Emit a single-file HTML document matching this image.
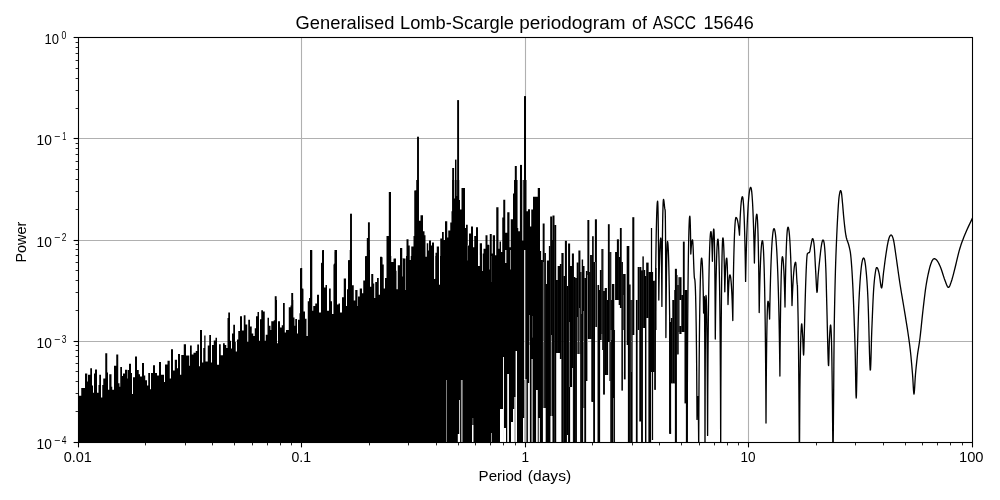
<!DOCTYPE html>
<html><head><meta charset="utf-8"><title>Generalised Lomb-Scargle periodogram of ASCC 15646</title>
<style>
html,body{margin:0;padding:0;background:#fff;overflow:hidden}
svg{display:block;font-family:"Liberation Sans",sans-serif;fill:#000;filter:grayscale(1)}
.g{stroke:#b0b0b0;stroke-width:1.1;fill:none}
.t{stroke:#000;stroke-width:1.1;fill:none}
.m{stroke:#000;stroke-width:0.85;fill:none}
.f{stroke:#000;stroke-width:1.1;fill:none}
.d{stroke:#000;stroke-width:1.32;fill:none;stroke-linejoin:round;stroke-linecap:butt}
</style></head><body>
<svg width="1000" height="500" viewBox="0 0 1000 500">
<defs><clipPath id="c"><rect x="78.5" y="37.5" width="894.0" height="405.0"/></clipPath></defs>
<rect x="0" y="0" width="1000" height="500" fill="#fff"/>
<line x1="301.5" y1="37.5" x2="301.5" y2="442.5" class="g"/>
<line x1="78.5" y1="138.5" x2="972.5" y2="138.5" class="g"/>
<line x1="525.5" y1="37.5" x2="525.5" y2="442.5" class="g"/>
<line x1="78.5" y1="240.5" x2="972.5" y2="240.5" class="g"/>
<line x1="748.5" y1="37.5" x2="748.5" y2="442.5" class="g"/>
<line x1="78.5" y1="341.5" x2="972.5" y2="341.5" class="g"/>
<g clip-path="url(#c)">
<path d="M77.50,450.00 L77.50,450.00 L78.50,450.00 L78.50,395.80 L81.25,395.80 L81.25,388.00 L85.00,388.00 L85.00,373.60 L87.25,373.60 L87.25,381.40 L88.00,381.40 L88.00,374.80 L90.25,374.80 L90.25,368.20 L92.00,368.20 L92.00,385.60 L93.00,385.60 L93.00,392.80 L94.00,392.80 L94.00,373.60 L95.00,373.60 L95.00,369.40 L97.00,369.40 L97.00,392.80 L98.50,392.80 L98.50,385.00 L99.25,385.00 L99.25,374.80 L101.00,374.80 L101.00,397.60 L102.25,397.60 L102.25,385.00 L103.25,385.00 L103.25,378.40 L105.25,378.40 L105.25,353.20 L107.25,353.20 L107.25,372.40 L108.00,372.40 L108.00,389.80 L109.25,389.80 L109.25,374.20 L111.50,374.20 L111.50,386.80 L112.25,386.80 L112.25,389.80 L114.00,389.80 L114.00,365.80 L116.25,365.80 L116.25,354.40 L118.25,354.40 L118.25,383.20 L119.50,383.20 L119.50,386.80 L120.25,386.80 L120.25,367.00 L122.00,367.00 L122.00,376.00 L123.00,376.00 L123.00,373.60 L125.00,373.60 L125.00,369.76 L127.25,369.76 L127.25,378.40 L127.75,378.40 L127.75,370.00 L129.00,370.00 L129.00,363.76 L131.00,363.76 L131.00,373.00 L132.00,373.00 L132.00,394.00 L133.00,394.00 L133.00,377.20 L135.00,377.20 L135.00,356.44 L137.00,356.44 L137.00,370.00 L138.75,370.00 L138.75,374.20 L140.00,374.20 L140.00,376.60 L142.00,376.60 L142.00,363.04 L144.00,363.04 L144.00,375.40 L145.25,375.40 L145.25,380.20 L147.00,380.20 L147.00,385.60 L148.25,385.60 L148.25,373.00 L150.00,373.00 L150.00,389.20 L151.00,389.20 L151.00,373.00 L153.00,373.00 L153.00,365.20 L155.00,365.20 L155.00,373.00 L157.00,373.00 L157.00,375.40 L159.00,375.40 L159.00,361.96 L161.00,361.96 L161.00,374.80 L164.00,374.80 L164.00,382.00 L165.00,382.00 L165.00,364.60 L167.50,364.60 L167.50,360.76 L169.75,360.76 L169.75,378.40 L171.00,378.40 L171.00,349.24 L173.00,349.24 L173.00,370.60 L174.75,370.60 L174.75,359.80 L177.00,359.80 L177.00,368.20 L178.00,368.20 L178.00,354.04 L180.00,354.04 L180.00,374.80 L181.25,374.80 L181.25,355.00 L183.75,355.00 L183.75,344.20 L186.00,344.20 L186.00,355.60 L189.25,355.60 L189.25,365.80 L190.00,365.80 L190.00,345.60 L191.75,345.60 L191.75,354.60 L193.50,354.60 L193.50,352.80 L195.75,352.80 L195.75,351.00 L197.25,351.00 L197.25,344.40 L199.00,344.40 L199.00,366.36 L200.00,366.36 L200.00,330.00 L202.00,330.00 L202.00,362.40 L203.25,362.40 L203.25,348.00 L204.25,348.00 L204.25,335.40 L205.50,335.40 L205.50,361.56 L207.75,361.56 L207.75,345.60 L209.25,345.60 L209.25,335.04 L211.00,335.04 L211.00,362.40 L212.00,362.40 L212.00,345.00 L213.75,345.00 L213.75,340.44 L215.50,340.44 L215.50,337.80 L217.00,337.80 L217.00,364.80 L219.00,364.80 L219.00,344.16 L220.75,344.16 L220.75,355.20 L223.00,355.20 L223.00,343.20 L224.75,343.20 L224.75,345.00 L226.25,345.00 L226.25,348.00 L227.50,348.00 L227.50,318.00 L228.25,318.00 L228.25,312.60 L230.00,312.60 L230.00,340.80 L231.00,340.80 L231.00,348.60 L232.00,348.60 L232.00,333.60 L233.25,333.60 L233.25,324.84 L235.00,324.84 L235.00,342.00 L235.75,342.00 L235.75,351.60 L237.00,351.60 L237.00,339.60 L238.25,339.60 L238.25,330.96 L240.00,330.96 L240.00,316.20 L242.00,316.20 L242.00,330.60 L243.75,330.60 L243.75,315.24 L245.50,315.24 L245.50,324.60 L247.25,324.60 L247.25,342.00 L248.25,342.00 L248.25,319.80 L250.00,319.80 L250.00,326.40 L251.75,326.40 L251.75,333.60 L253.25,333.60 L253.25,336.00 L254.75,336.00 L254.75,328.20 L256.00,328.20 L256.00,316.20 L257.50,316.20 L257.50,312.00 L259.00,312.00 L259.00,340.80 L260.00,340.80 L260.00,319.20 L261.25,319.20 L261.25,310.20 L263.00,310.20 L263.00,311.40 L264.75,311.40 L264.75,340.80 L265.75,340.80 L265.75,334.80 L267.50,334.80 L267.50,317.64 L269.00,317.64 L269.00,325.80 L270.50,325.80 L270.50,330.00 L271.25,330.00 L271.25,321.36 L273.75,321.36 L273.75,320.16 L275.00,320.16 L275.00,300.00 L277.00,300.00 L277.00,343.20 L278.00,343.20 L278.00,321.36 L280.00,321.36 L280.00,327.60 L281.75,327.60 L281.75,325.20 L283.00,325.20 L283.00,303.00 L284.75,303.00 L284.75,332.40 L286.00,332.40 L286.00,330.00 L288.75,330.00 L288.75,307.20 L290.50,307.20 L290.50,305.40 L291.75,305.40 L291.75,300.00 L293.25,300.00 L293.25,317.40 L294.50,317.40 L294.50,325.80 L295.25,325.80 L295.25,318.96 L297.00,318.96 L297.00,333.60 L298.00,333.60 L298.00,319.80 L299.50,319.80 L299.50,313.20 L300.00,313.20 L300.00,268.40 L301.75,268.40 L301.75,288.40 L303.25,288.40 L303.25,311.60 L305.00,311.60 L305.00,318.80 L306.50,318.80 L306.50,336.00 L307.75,336.00 L307.75,301.20 L309.00,301.20 L309.00,298.00 L310.00,298.00 L310.00,250.00 L312.25,250.00 L312.25,310.80 L313.25,310.80 L313.25,306.00 L315.25,306.00 L315.25,303.60 L317.00,303.60 L317.00,294.80 L319.00,294.80 L319.00,312.40 L321.00,312.40 L321.00,263.60 L322.50,263.60 L322.50,250.00 L324.00,250.00 L324.00,287.60 L325.50,287.60 L325.50,284.88 L327.00,284.88 L327.00,310.80 L329.00,310.80 L329.00,288.40 L330.75,288.40 L330.75,301.20 L332.00,301.20 L332.00,314.00 L333.50,314.00 L333.50,264.40 L334.50,264.40 L334.50,250.00 L337.00,250.00 L337.00,304.40 L338.50,304.40 L338.50,303.60 L340.00,303.60 L340.00,312.40 L342.00,312.40 L342.00,297.20 L343.75,297.20 L343.75,278.48 L346.00,278.48 L346.00,306.00 L347.00,306.00 L347.00,289.20 L348.00,289.20 L348.00,260.40 L349.75,260.40 L349.75,250.00 L352.00,250.00 L352.00,285.20 L353.75,285.20 L353.75,300.40 L355.25,300.40 L355.25,290.00 L357.50,290.00 L357.50,306.00 L358.00,306.00 L358.00,296.40 L359.75,296.40 L359.75,288.40 L362.00,288.40 L362.00,293.20 L363.25,293.20 L363.25,280.40 L365.00,280.40 L365.00,256.40 L367.25,256.40 L367.25,250.00 L370.00,250.00 L370.00,286.80 L371.25,286.80 L371.25,274.00 L373.25,274.00 L373.25,283.60 L374.25,283.60 L374.25,298.00 L375.25,298.00 L375.25,282.00 L377.00,282.00 L377.00,278.00 L378.75,278.00 L378.75,294.80 L380.00,294.80 L380.00,256.80 L382.00,256.80 L382.00,257.20 L382.50,257.20 L382.50,264.40 L383.75,264.40 L383.75,288.40 L385.00,288.40 L385.00,278.00 L386.50,278.00 L386.50,236.00 L389.00,236.00 L389.00,192.00 L391.00,192.00 L391.00,256.00 L391.25,256.00 L391.25,262.00 L393.50,262.00 L393.50,258.80 L393.75,258.80 L393.75,258.40 L396.00,258.40 L396.00,270.80 L396.50,270.80 L396.50,289.20 L397.75,289.20 L397.75,265.20 L400.00,265.20 L400.00,248.00 L402.25,248.00 L402.25,276.40 L402.75,276.40 L402.75,258.00 L403.25,258.00 L403.25,258.40 L405.50,258.40 L405.50,290.00 L406.00,290.00 L406.00,256.00 L406.50,256.00 L406.50,239.20 L408.50,239.20 L408.50,245.60 L409.75,245.60 L409.75,259.92 L410.75,259.92 L410.75,256.00 L411.25,256.00 L411.25,246.40 L413.50,246.40 L413.50,236.00 L414.25,236.00 L414.25,190.40 L416.25,190.40 L416.25,180.00 L418.75,180.00 L418.75,220.80 L420.50,220.80 L420.50,215.20 L423.00,215.20 L423.00,231.20 L424.50,231.20 L424.50,235.20 L425.50,235.20 L425.50,256.80 L426.75,256.80 L426.75,243.20 L428.25,243.20 L428.25,250.40 L429.00,250.40 L429.00,240.48 L431.00,240.48 L431.00,245.60 L432.00,245.60 L432.00,242.40 L434.00,242.40 L434.00,254.80 L434.25,254.80 L434.25,278.80 L435.25,278.80 L435.25,256.00 L435.50,256.00 L435.50,252.80 L436.75,252.80 L436.75,246.40 L439.00,246.40 L439.00,284.40 L440.00,284.40 L440.00,256.00 L440.25,256.00 L440.25,238.40 L442.00,238.40 L442.00,232.00 L443.75,232.00 L443.75,240.00 L445.00,240.00 L445.00,221.28 L447.25,221.28 L447.25,237.60 L448.25,237.60 L448.25,230.40 L450.25,230.40 L450.25,222.40 L451.50,222.40 L451.50,211.20 L452.25,211.20 L452.25,180.00 L454.25,180.00 L454.25,198.40 L455.25,198.40 L455.25,180.00 L456.50,180.00 L456.50,196.00 L457.50,196.00 L457.50,180.00 L459.25,180.00 L459.25,200.00 L460.00,200.00 L460.00,209.60 L461.50,209.60 L461.50,188.00 L465.00,188.00 L465.00,228.00 L466.00,228.00 L466.00,224.80 L467.75,224.80 L467.75,245.60 L469.00,245.60 L469.00,233.60 L471.00,233.60 L471.00,226.40 L473.00,226.40 L473.00,247.20 L474.25,247.20 L474.25,236.00 L476.00,236.00 L476.00,227.20 L478.00,227.20 L478.00,266.00 L479.75,266.00 L479.75,243.20 L482.00,243.20 L482.00,253.60 L483.50,253.60 L483.50,248.80 L485.50,248.80 L485.50,235.20 L487.50,235.20 L487.50,244.80 L489.75,244.80 L489.75,234.08 L491.75,234.08 L491.75,253.60 L492.75,253.60 L492.75,235.20 L495.00,235.20 L495.00,255.20 L496.25,255.20 L496.25,207.20 L498.50,207.20 L498.50,248.80 L499.50,248.80 L499.50,241.60 L501.00,241.60 L501.00,252.00 L502.25,252.00 L502.25,217.60 L503.25,217.60 L503.25,199.68 L505.25,199.68 L505.25,232.80 L507.25,232.80 L507.25,212.32 L509.50,212.32 L509.50,247.20 L510.75,247.20 L510.75,219.20 L513.00,219.20 L513.00,193.60 L514.25,193.60 L514.25,180.00 L517.50,180.00 L517.50,228.00 L518.25,228.00 L518.25,231.20 L520.00,231.20 L520.00,180.00 L522.25,180.00 L522.25,240.80 L523.25,240.80 L523.25,180.00 L526.50,180.00 L526.50,211.20 L528.00,211.20 L528.00,209.28 L530.00,209.28 L530.00,226.40 L531.25,226.40 L531.25,209.60 L533.00,209.60 L533.00,196.80 L537.75,196.80 L537.75,188.00 L540.00,188.00 L540.00,450.00 L540.00,450.00 L540.00,450.00Z" fill="#000"/>
<rect x="274.75" y="296.20" width="1.90" height="153.80" fill="#000"/>
<rect x="291.25" y="293.00" width="1.90" height="157.00" fill="#000"/>
<rect x="300.40" y="268.00" width="1.80" height="182.00" fill="#000"/>
<rect x="301.70" y="289.20" width="1.60" height="160.80" fill="#000"/>
<rect x="310.15" y="251.10" width="1.90" height="198.90" fill="#000"/>
<rect x="322.00" y="250.30" width="1.80" height="199.70" fill="#000"/>
<rect x="321.10" y="262.80" width="1.60" height="187.20" fill="#000"/>
<rect x="334.85" y="252.00" width="1.90" height="198.00" fill="#000"/>
<rect x="333.90" y="263.60" width="1.40" height="186.40" fill="#000"/>
<rect x="350.05" y="213.70" width="1.90" height="236.30" fill="#000"/>
<rect x="348.30" y="260.00" width="1.60" height="190.00" fill="#000"/>
<rect x="367.95" y="222.30" width="1.90" height="227.70" fill="#000"/>
<rect x="366.80" y="238.00" width="1.60" height="212.00" fill="#000"/>
<rect x="365.30" y="256.00" width="1.80" height="194.00" fill="#000"/>
<rect x="380.30" y="257.20" width="1.80" height="192.80" fill="#000"/>
<rect x="388.80" y="192.00" width="2.00" height="258.00" fill="#000"/>
<rect x="387.55" y="236.40" width="1.50" height="213.60" fill="#000"/>
<rect x="417.05" y="136.70" width="1.90" height="313.30" fill="#000"/>
<rect x="415.50" y="190.40" width="2.20" height="259.60" fill="#000"/>
<rect x="457.15" y="100.10" width="1.90" height="349.90" fill="#000"/>
<rect x="455.00" y="159.60" width="1.50" height="290.40" fill="#000"/>
<rect x="452.20" y="168.00" width="1.90" height="282.00" fill="#000"/>
<rect x="524.00" y="96.10" width="2.00" height="353.90" fill="#000"/>
<rect x="514.80" y="166.00" width="2.00" height="284.00" fill="#000"/>
<rect x="520.00" y="164.90" width="2.00" height="285.10" fill="#000"/>
<rect x="514.10" y="180.00" width="3.00" height="270.00" fill="#000"/>
<rect x="519.90" y="180.00" width="2.20" height="270.00" fill="#000"/>
<rect x="446.00" y="380.00" width="0.90" height="70.00" fill="#fff" fill-opacity="0.55"/>
<rect x="459.00" y="400.00" width="1.00" height="50.00" fill="#fff" fill-opacity="0.8"/>
<rect x="457.80" y="434.00" width="2.20" height="16.00" fill="#fff"/>
<rect x="460.90" y="380.00" width="1.80" height="70.00" fill="#fff" fill-opacity="0.6"/>
<rect x="472.00" y="425.00" width="1.40" height="25.00" fill="#fff"/>
<rect x="472.60" y="418.00" width="0.60" height="32.00" fill="#fff" fill-opacity="0.7"/>
<rect x="491.00" y="433.00" width="1.00" height="17.00" fill="#fff" fill-opacity="0.6"/>
<rect x="500.00" y="409.00" width="3.00" height="41.00" fill="#fff"/>
<rect x="503.00" y="357.00" width="0.95" height="93.00" fill="#fff"/>
<rect x="503.60" y="428.00" width="2.40" height="22.00" fill="#fff"/>
<rect x="507.20" y="374.00" width="1.80" height="76.00" fill="#fff" fill-opacity="0.95"/>
<rect x="511.00" y="422.00" width="2.00" height="28.00" fill="#fff"/>
<rect x="513.00" y="409.00" width="1.40" height="41.00" fill="#fff"/>
<rect x="514.40" y="397.00" width="1.20" height="53.00" fill="#fff"/>
<rect x="515.60" y="351.00" width="1.40" height="99.00" fill="#fff"/>
<rect x="523.00" y="418.00" width="1.40" height="32.00" fill="#fff"/>
<rect x="524.40" y="379.00" width="2.00" height="71.00" fill="#fff"/>
<rect x="527.90" y="383.00" width="1.90" height="67.00" fill="#fff" fill-opacity="0.95"/>
<rect x="529.00" y="345.00" width="0.60" height="105.00" fill="#fff" fill-opacity="0.8"/>
<rect x="536.00" y="390.00" width="1.80" height="60.00" fill="#fff" fill-opacity="0.92"/>
<rect x="538.70" y="418.00" width="1.30" height="32.00" fill="#fff"/>
<rect x="531.50" y="359.00" width="1.20" height="91.00" fill="#fff" fill-opacity="0.85"/>
<rect x="434.00" y="250.00" width="1.00" height="29.00" fill="#fff" fill-opacity="0.9"/>
<rect x="439.00" y="250.00" width="0.80" height="35.00" fill="#fff" fill-opacity="0.5"/>
<rect x="524.10" y="250.00" width="1.10" height="130.00" fill="#fff" fill-opacity="0.95"/>
<rect x="529.00" y="315.00" width="0.80" height="68.00" fill="#fff" fill-opacity="0.6"/>
<rect x="532.00" y="316.00" width="0.60" height="21.60" fill="#fff" fill-opacity="0.4"/>
<rect x="482.10" y="252.00" width="0.80" height="19.00" fill="#fff" fill-opacity="0.9"/>
<rect x="489.10" y="244.00" width="0.70" height="25.50" fill="#fff" fill-opacity="0.7"/>
<rect x="510.10" y="250.00" width="0.80" height="19.50" fill="#fff" fill-opacity="0.7"/>
<rect x="505.10" y="250.00" width="1.30" height="13.00" fill="#fff" fill-opacity="0.9"/>
<rect x="467.10" y="245.00" width="0.60" height="15.50" fill="#fff" fill-opacity="0.5"/>
<rect x="491.30" y="256.00" width="0.50" height="26.00" fill="#fff" fill-opacity="0.35"/>
<rect x="478.00" y="255.00" width="1.20" height="10.50" fill="#fff" fill-opacity="0.9"/>
<rect x="539.88" y="251.00" width="1.24" height="199.00" fill="#000"/>
<rect x="540.88" y="260.00" width="2.04" height="190.00" fill="#000"/>
<rect x="542.68" y="223.50" width="1.94" height="184.50" fill="#000"/>
<rect x="544.38" y="253.00" width="1.54" height="155.00" fill="#000"/>
<rect x="545.68" y="284.00" width="1.44" height="166.00" fill="#000"/>
<rect x="546.88" y="260.50" width="2.24" height="189.50" fill="#000"/>
<rect x="548.88" y="246.00" width="1.54" height="204.00" fill="#000"/>
<rect x="550.18" y="216.50" width="2.04" height="199.50" fill="#000"/>
<rect x="551.98" y="240.00" width="0.94" height="176.00" fill="#000"/>
<rect x="552.48" y="215.50" width="2.04" height="234.50" fill="#000"/>
<rect x="554.28" y="225.00" width="1.94" height="225.00" fill="#000"/>
<rect x="555.98" y="280.00" width="1.94" height="73.00" fill="#000"/>
<rect x="557.68" y="266.00" width="2.44" height="87.00" fill="#000"/>
<rect x="559.88" y="264.00" width="1.74" height="95.00" fill="#000"/>
<rect x="561.38" y="253.00" width="2.24" height="197.00" fill="#000"/>
<rect x="563.38" y="276.00" width="1.74" height="174.00" fill="#000"/>
<rect x="564.88" y="240.80" width="2.04" height="209.20" fill="#000"/>
<rect x="566.68" y="286.00" width="1.64" height="149.00" fill="#000"/>
<rect x="568.08" y="243.50" width="2.04" height="206.50" fill="#000"/>
<rect x="569.88" y="266.00" width="2.24" height="121.00" fill="#000"/>
<rect x="571.88" y="253.50" width="1.24" height="114.50" fill="#000"/>
<rect x="572.88" y="253.50" width="1.04" height="196.50" fill="#000"/>
<rect x="573.68" y="277.00" width="1.64" height="173.00" fill="#000"/>
<rect x="575.08" y="278.00" width="1.84" height="172.00" fill="#000"/>
<rect x="576.68" y="262.50" width="1.94" height="91.50" fill="#000"/>
<rect x="578.38" y="250.50" width="2.04" height="103.50" fill="#000"/>
<rect x="580.18" y="272.00" width="1.74" height="178.00" fill="#000"/>
<rect x="581.68" y="259.50" width="1.44" height="190.50" fill="#000"/>
<rect x="582.88" y="266.00" width="1.64" height="142.00" fill="#000"/>
<rect x="584.28" y="278.00" width="1.84" height="172.00" fill="#000"/>
<rect x="585.88" y="271.00" width="1.74" height="110.00" fill="#000"/>
<rect x="587.38" y="220.00" width="1.94" height="119.00" fill="#000"/>
<rect x="589.08" y="272.00" width="1.24" height="67.00" fill="#000"/>
<rect x="590.08" y="255.00" width="1.64" height="84.00" fill="#000"/>
<rect x="591.28" y="255.00" width="1.64" height="146.80" fill="#000"/>
<rect x="592.08" y="236.20" width="1.64" height="165.80" fill="#000"/>
<rect x="593.18" y="262.00" width="1.84" height="188.00" fill="#000"/>
<rect x="594.88" y="219.30" width="2.04" height="107.70" fill="#000"/>
<rect x="597.48" y="285.00" width="1.64" height="165.00" fill="#000"/>
<rect x="598.88" y="290.00" width="1.24" height="160.00" fill="#000"/>
<rect x="599.88" y="270.00" width="1.74" height="70.00" fill="#000"/>
<rect x="601.38" y="249.00" width="1.04" height="85.00" fill="#000"/>
<rect x="602.18" y="249.00" width="1.24" height="101.00" fill="#000"/>
<rect x="603.08" y="291.00" width="1.84" height="103.60" fill="#000"/>
<rect x="604.68" y="288.00" width="2.24" height="87.00" fill="#000"/>
<rect x="606.68" y="300.00" width="1.44" height="75.00" fill="#000"/>
<rect x="607.88" y="224.20" width="1.84" height="117.80" fill="#000"/>
<rect x="609.38" y="252.00" width="1.14" height="129.00" fill="#000"/>
<rect x="610.28" y="252.00" width="1.04" height="198.00" fill="#000"/>
<rect x="611.08" y="300.00" width="1.04" height="150.00" fill="#000"/>
<rect x="611.88" y="284.00" width="2.44" height="166.00" fill="#000"/>
<rect x="614.08" y="330.00" width="0.94" height="120.00" fill="#000"/>
<rect x="615.08" y="252.00" width="2.04" height="48.00" fill="#000"/>
<rect x="616.88" y="239.30" width="2.04" height="60.70" fill="#000"/>
<rect x="618.68" y="257.00" width="1.44" height="48.00" fill="#000"/>
<rect x="619.88" y="228.00" width="1.84" height="80.00" fill="#000"/>
<rect x="621.38" y="262.00" width="1.54" height="128.60" fill="#000"/>
<rect x="623.08" y="274.00" width="1.24" height="56.00" fill="#000"/>
<rect x="623.88" y="274.00" width="1.74" height="105.40" fill="#000"/>
<rect x="626.68" y="246.00" width="1.44" height="99.00" fill="#000"/>
<rect x="627.88" y="246.00" width="1.44" height="204.00" fill="#000"/>
<rect x="629.08" y="284.50" width="1.54" height="165.50" fill="#000"/>
<rect x="630.38" y="300.00" width="2.24" height="150.00" fill="#000"/>
<rect x="632.28" y="217.20" width="2.04" height="117.80" fill="#000"/>
<rect x="635.88" y="300.00" width="1.74" height="150.00" fill="#000"/>
<rect x="637.68" y="267.00" width="1.64" height="63.00" fill="#000"/>
<rect x="639.28" y="267.00" width="2.04" height="154.50" fill="#000"/>
<rect x="641.08" y="270.40" width="1.84" height="179.60" fill="#000"/>
<rect x="642.38" y="256.40" width="1.44" height="71.60" fill="#000"/>
<rect x="643.58" y="270.00" width="1.64" height="58.00" fill="#000"/>
<rect x="644.98" y="276.00" width="1.44" height="174.00" fill="#000"/>
<rect x="646.18" y="262.60" width="2.44" height="55.40" fill="#000"/>
<rect x="648.38" y="272.00" width="2.74" height="178.00" fill="#000"/>
<rect x="650.88" y="228.00" width="1.24" height="144.00" fill="#000"/>
<rect x="651.88" y="272.00" width="1.24" height="168.00" fill="#000"/>
<rect x="652.88" y="280.80" width="1.84" height="91.20" fill="#000"/>
<rect x="654.48" y="280.80" width="1.24" height="109.00" fill="#000"/>
<rect x="655.48" y="268.00" width="1.04" height="62.00" fill="#000"/>
<rect x="669.08" y="322.00" width="2.04" height="111.80" fill="#000"/>
<rect x="670.88" y="318.00" width="1.64" height="65.40" fill="#000"/>
<rect x="672.28" y="300.00" width="2.24" height="83.40" fill="#000"/>
<rect x="674.28" y="290.00" width="0.94" height="93.40" fill="#000"/>
<rect x="674.88" y="268.80" width="2.04" height="181.20" fill="#000"/>
<rect x="676.68" y="275.00" width="0.84" height="79.40" fill="#000"/>
<rect x="677.28" y="285.00" width="1.44" height="69.40" fill="#000"/>
<rect x="678.48" y="277.20" width="1.04" height="54.80" fill="#000"/>
<rect x="679.28" y="277.20" width="2.24" height="22.80" fill="#000"/>
<rect x="679.28" y="326.00" width="2.24" height="8.00" fill="#000"/>
<rect x="681.28" y="295.00" width="1.84" height="37.00" fill="#000"/>
<rect x="682.88" y="241.60" width="1.84" height="90.40" fill="#000"/>
<rect x="684.48" y="290.00" width="1.64" height="113.40" fill="#000"/>
<rect x="685.88" y="290.00" width="1.64" height="160.00" fill="#000"/>
<rect x="543.10" y="262.00" width="0.70" height="146.00" fill="#fff" fill-opacity="0.55"/>
<rect x="551.20" y="335.00" width="0.80" height="81.00" fill="#fff" fill-opacity="0.6"/>
<rect x="569.20" y="322.00" width="0.70" height="65.00" fill="#fff" fill-opacity="0.55"/>
<rect x="577.20" y="317.00" width="0.70" height="37.00" fill="#fff" fill-opacity="0.55"/>
<rect x="579.20" y="308.00" width="0.70" height="46.00" fill="#fff" fill-opacity="0.55"/>
<rect x="581.20" y="272.00" width="0.60" height="42.00" fill="#fff" fill-opacity="0.5"/>
<rect x="583.20" y="311.00" width="0.70" height="97.00" fill="#fff" fill-opacity="0.55"/>
<rect x="587.10" y="275.00" width="0.60" height="106.00" fill="#fff" fill-opacity="0.6"/>
<rect x="613.10" y="398.00" width="0.60" height="52.00" fill="#fff" fill-opacity="0.7"/>
<rect x="595.30" y="262.00" width="0.70" height="65.00" fill="#fff" fill-opacity="0.45"/>
<rect x="595.30" y="327.00" width="1.90" height="123.00" fill="#fff" fill-opacity="0.35"/>
<rect x="610.20" y="330.00" width="0.60" height="12.00" fill="#fff" fill-opacity="0.4"/>
<rect x="611.40" y="330.00" width="0.60" height="10.00" fill="#fff" fill-opacity="0.4"/>
<rect x="623.30" y="295.00" width="0.50" height="77.00" fill="#fff" fill-opacity="0.45"/>
<rect x="631.00" y="300.00" width="0.50" height="72.00" fill="#fff" fill-opacity="0.45"/>
<clipPath id="gc"><rect x="446.00" y="380.00" width="0.90" height="70.00" fill="#000"/><rect x="459.00" y="400.00" width="1.00" height="50.00" fill="#000"/><rect x="457.80" y="434.00" width="2.20" height="16.00" fill="#000"/><rect x="460.90" y="380.00" width="1.80" height="70.00" fill="#000"/><rect x="472.00" y="425.00" width="1.40" height="25.00" fill="#000"/><rect x="472.60" y="418.00" width="0.60" height="32.00" fill="#000"/><rect x="491.00" y="433.00" width="1.00" height="17.00" fill="#000"/><rect x="500.00" y="409.00" width="3.00" height="41.00" fill="#000"/><rect x="503.00" y="357.00" width="0.95" height="93.00" fill="#000"/><rect x="503.60" y="428.00" width="2.40" height="22.00" fill="#000"/><rect x="507.20" y="374.00" width="1.80" height="76.00" fill="#000"/><rect x="511.00" y="422.00" width="2.00" height="28.00" fill="#000"/><rect x="513.00" y="409.00" width="1.40" height="41.00" fill="#000"/><rect x="514.40" y="397.00" width="1.20" height="53.00" fill="#000"/><rect x="515.60" y="351.00" width="1.40" height="99.00" fill="#000"/><rect x="523.00" y="418.00" width="1.40" height="32.00" fill="#000"/><rect x="524.40" y="379.00" width="2.00" height="71.00" fill="#000"/><rect x="527.90" y="383.00" width="1.90" height="67.00" fill="#000"/><rect x="529.00" y="345.00" width="0.60" height="105.00" fill="#000"/><rect x="536.00" y="390.00" width="1.80" height="60.00" fill="#000"/><rect x="538.70" y="418.00" width="1.30" height="32.00" fill="#000"/><rect x="531.50" y="359.00" width="1.20" height="91.00" fill="#000"/><rect x="434.00" y="250.00" width="1.00" height="29.00" fill="#000"/><rect x="439.00" y="250.00" width="0.80" height="35.00" fill="#000"/><rect x="524.10" y="250.00" width="1.10" height="130.00" fill="#000"/><rect x="529.00" y="315.00" width="0.80" height="68.00" fill="#000"/><rect x="532.00" y="316.00" width="0.60" height="21.60" fill="#000"/><rect x="482.10" y="252.00" width="0.80" height="19.00" fill="#000"/><rect x="489.10" y="244.00" width="0.70" height="25.50" fill="#000"/><rect x="510.10" y="250.00" width="0.80" height="19.50" fill="#000"/><rect x="505.10" y="250.00" width="1.30" height="13.00" fill="#000"/><rect x="467.10" y="245.00" width="0.60" height="15.50" fill="#000"/><rect x="491.30" y="256.00" width="0.50" height="26.00" fill="#000"/><rect x="478.00" y="255.00" width="1.20" height="10.50" fill="#000"/><rect x="543.10" y="262.00" width="0.70" height="146.00" fill="#000"/><rect x="551.20" y="335.00" width="0.80" height="81.00" fill="#000"/><rect x="569.20" y="322.00" width="0.70" height="65.00" fill="#000"/><rect x="577.20" y="317.00" width="0.70" height="37.00" fill="#000"/><rect x="579.20" y="308.00" width="0.70" height="46.00" fill="#000"/><rect x="581.20" y="272.00" width="0.60" height="42.00" fill="#000"/><rect x="583.20" y="311.00" width="0.70" height="97.00" fill="#000"/><rect x="587.10" y="275.00" width="0.60" height="106.00" fill="#000"/><rect x="613.10" y="398.00" width="0.60" height="52.00" fill="#000"/><rect x="595.30" y="262.00" width="0.70" height="65.00" fill="#000"/><rect x="595.30" y="327.00" width="1.90" height="123.00" fill="#000"/><rect x="610.20" y="330.00" width="0.60" height="12.00" fill="#000"/><rect x="611.40" y="330.00" width="0.60" height="10.00" fill="#000"/><rect x="623.30" y="295.00" width="0.50" height="77.00" fill="#000"/><rect x="631.00" y="300.00" width="0.50" height="72.00" fill="#000"/></clipPath>
<g clip-path="url(#gc)"><line x1="301.5" y1="37.5" x2="301.5" y2="442.5" class="g"/>
<line x1="78.5" y1="138.5" x2="972.5" y2="138.5" class="g"/>
<line x1="525.5" y1="37.5" x2="525.5" y2="442.5" class="g"/>
<line x1="78.5" y1="240.5" x2="972.5" y2="240.5" class="g"/>
<line x1="748.5" y1="37.5" x2="748.5" y2="442.5" class="g"/>
<line x1="78.5" y1="341.5" x2="972.5" y2="341.5" class="g"/></g>
<path d="M655.00,389.80 L655.17,344.60 L655.35,314.69 L655.52,292.04 L655.69,273.87 L655.87,258.86 L656.04,246.30 L656.21,235.75 L656.39,226.92 L656.56,219.60 L656.73,213.65 L656.91,208.96 L657.08,205.44 L657.25,203.02 L657.43,201.63 L657.60,201.20 L657.77,202.58 L657.94,207.02 L658.11,214.88 L658.29,226.70 L658.46,243.36 L658.63,266.51 L658.80,300.00 L658.97,288.10 L659.13,278.04 L659.30,269.49 L659.47,262.23 L659.63,256.11 L659.80,251.01 L659.97,246.84 L660.13,243.54 L660.30,241.05 L660.47,239.32 L660.63,238.32 L660.80,238.00 L660.98,239.43 L661.17,244.01 L661.35,252.14 L661.53,264.41 L661.72,281.83 L661.90,306.40 L662.08,276.31 L662.26,254.43 L662.43,237.75 L662.61,224.90 L662.79,215.11 L662.97,207.92 L663.14,203.05 L663.32,200.27 L663.50,199.40 L663.68,199.71 L663.86,200.59 L664.03,201.95 L664.21,203.61 L664.39,205.39 L664.57,207.05 L664.74,208.41 L664.92,209.29 L665.10,209.60 L665.23,211.88 L665.37,219.29 L665.50,232.71 L665.63,253.62 L665.77,285.27 L665.90,337.60 L666.08,311.38 L666.26,291.80 L666.43,276.69 L666.61,264.95 L666.79,255.97 L666.97,249.37 L667.14,244.87 L667.32,242.31 L667.50,241.50 L667.67,241.84 L667.84,242.92 L668.01,244.81 L668.18,247.53 L668.35,251.16 L668.52,255.73 L668.69,261.32 L668.86,268.01 L669.04,275.90 L669.21,285.13 L669.38,295.91 L669.55,308.50 L669.72,323.32 L669.89,341.05 L670.06,362.92 L670.23,391.48 L670.40,433.80" class="d"/>
<path d="M687.20,450.00 L687.37,384.89 L687.55,347.62 L687.72,320.64 L687.89,299.41 L688.07,282.06 L688.24,267.62 L688.41,255.53 L688.59,245.43 L688.76,237.09 L688.93,230.32 L689.11,224.99 L689.28,220.99 L689.45,218.25 L689.63,216.69 L689.80,216.20 L689.97,217.06 L690.13,219.80 L690.30,224.58 L690.47,231.64 L690.63,241.28 L690.80,254.00 L690.97,251.16 L691.14,248.67 L691.31,246.53 L691.48,244.70 L691.65,243.19 L691.82,241.97 L691.99,241.05 L692.16,240.40 L692.33,240.02 L692.50,239.90 L692.67,240.56 L692.85,242.51 L693.02,245.60 L693.20,249.62 L693.38,254.32 L693.55,259.35 L693.73,264.38 L693.90,269.07 L694.08,273.10 L694.25,276.19 L694.43,278.14 L694.60,278.80 L694.77,279.22 L694.94,280.56 L695.11,282.89 L695.29,286.26 L695.46,290.76 L695.63,296.46 L695.80,303.48 L695.97,311.98 L696.14,322.15 L696.31,334.31 L696.49,348.91 L696.66,366.73 L696.83,389.19 L697.00,419.40 L697.15,411.99 L697.30,406.21 L697.45,401.91 L697.60,398.95 L697.75,397.24 L697.90,396.70 L698.03,397.86 L698.17,401.57 L698.30,408.11 L698.43,417.87 L698.57,431.47 L698.70,450.00 L698.87,407.83 L699.04,379.34 L699.21,357.51 L699.38,339.81 L699.55,325.01 L699.72,312.44 L699.89,301.68 L700.06,292.45 L700.24,284.57 L700.41,277.89 L700.58,272.31 L700.75,267.75 L700.92,264.13 L701.09,261.40 L701.26,259.52 L701.43,258.44 L701.60,258.10 L701.77,258.39 L701.93,259.29 L702.10,260.85 L702.27,263.10 L702.43,266.07 L702.60,269.81 L702.77,274.38 L702.93,279.84 L703.10,286.29 L703.27,293.84 L703.43,302.67 L703.60,313.00 L703.72,307.75 L703.83,303.60 L703.95,300.49 L704.07,298.34 L704.18,297.10 L704.30,296.70 L704.42,299.26 L704.53,307.64 L704.65,322.88 L704.77,346.86 L704.88,383.92 L705.00,450.00 L705.17,383.24 L705.33,345.94 L705.50,321.82 L705.67,306.49 L705.83,298.07 L706.00,295.50 L706.18,296.54 L706.36,299.89 L706.53,305.79 L706.71,314.54 L706.89,326.55 L707.07,342.50 L707.24,363.59 L707.42,392.31 L707.60,435.40 L707.77,392.53 L707.95,363.82 L708.12,341.84 L708.29,323.97 L708.47,308.94 L708.64,296.06 L708.82,284.92 L708.99,275.22 L709.16,266.78 L709.34,259.46 L709.51,253.14 L709.68,247.75 L709.86,243.22 L710.03,239.50 L710.21,236.54 L710.38,234.31 L710.55,232.77 L710.73,231.88 L710.90,231.60 L711.07,231.90 L711.23,232.85 L711.40,234.49 L711.57,236.84 L711.73,239.97 L711.90,243.90 L712.07,248.71 L712.23,254.47 L712.40,261.30 L712.57,252.98 L712.75,246.14 L712.92,240.61 L713.10,236.25 L713.27,232.98 L713.45,230.72 L713.62,229.41 L713.80,229.00 L713.97,229.89 L714.13,232.72 L714.30,237.70 L714.47,245.03 L714.63,255.04 L714.80,268.20 L714.97,285.30 L715.13,307.81 L715.30,339.00 L715.47,321.40 L715.65,306.91 L715.82,294.72 L715.99,284.33 L716.17,275.41 L716.34,267.76 L716.51,261.21 L716.69,255.66 L716.86,251.01 L717.03,247.20 L717.21,244.18 L717.38,241.89 L717.55,240.31 L717.73,239.39 L717.90,239.10 L718.07,239.50 L718.25,240.80 L718.42,243.05 L718.60,246.33 L718.77,250.70 L718.95,256.22 L719.12,263.00 L719.30,271.14 L719.48,280.82 L719.65,292.24 L719.83,305.72 L720.00,321.76 L720.18,341.15 L720.35,365.44 L720.53,398.05 L720.70,450.00 L720.87,388.84 L721.04,352.65 L721.21,326.36 L721.38,305.82 L721.55,289.25 L721.72,275.74 L721.88,264.76 L722.05,255.94 L722.22,249.06 L722.39,243.93 L722.56,240.43 L722.73,238.42 L722.90,237.80 L723.07,238.14 L723.25,239.21 L723.42,241.05 L723.59,243.71 L723.76,247.23 L723.94,251.69 L724.11,257.16 L724.28,263.73 L724.45,271.56 L724.63,280.82 L724.80,291.80 L724.97,285.30 L725.15,279.67 L725.32,274.80 L725.49,270.65 L725.66,267.16 L725.84,264.28 L726.01,261.98 L726.18,260.24 L726.35,259.03 L726.53,258.32 L726.70,258.10 L726.89,258.85 L727.07,261.24 L727.26,265.41 L727.44,271.52 L727.63,279.83 L727.81,290.66 L728.00,304.60 L728.17,298.93 L728.35,293.99 L728.52,289.71 L728.69,286.04 L728.86,282.95 L729.04,280.40 L729.21,278.36 L729.38,276.81 L729.55,275.73 L729.73,275.10 L729.90,274.90 L730.07,275.02 L730.24,275.40 L730.41,276.05 L730.58,276.97 L730.75,278.19 L730.92,279.70 L731.09,281.52 L731.26,283.66 L731.44,286.13 L731.61,288.96 L731.78,292.15 L731.95,295.73 L732.12,299.73 L732.29,304.18 L732.46,309.10 L732.63,314.56 L732.80,320.60 L732.97,305.78 L733.14,293.21 L733.31,282.33 L733.47,272.82 L733.64,264.44 L733.81,257.02 L733.98,250.45 L734.15,244.64 L734.32,239.51 L734.48,235.02 L734.65,231.11 L734.82,227.74 L734.99,224.90 L735.16,222.55 L735.33,220.68 L735.49,219.25 L735.66,218.26 L735.83,217.68 L736.00,217.50 L736.17,217.53 L736.33,217.64 L736.50,217.81 L736.67,218.06 L736.83,218.39 L737.00,218.79 L737.17,219.27 L737.33,219.84 L737.50,220.48 L737.67,221.21 L737.83,222.02 L738.00,222.92 L738.17,223.90 L738.33,224.98 L738.50,226.15 L738.67,227.41 L738.83,228.76 L739.00,230.22 L739.17,231.77 L739.33,233.43 L739.50,235.20 L739.67,230.21 L739.84,225.68 L740.01,221.56 L740.18,217.83 L740.35,214.46 L740.52,211.43 L740.69,208.72 L740.86,206.31 L741.04,204.20 L741.21,202.38 L741.38,200.82 L741.55,199.52 L741.72,198.48 L741.89,197.69 L742.06,197.13 L742.23,196.80 L742.40,196.70 L742.57,196.86 L742.74,197.36 L742.91,198.21 L743.07,199.44 L743.24,201.06 L743.41,203.07 L743.58,205.51 L743.75,208.38 L743.92,211.72 L744.08,215.55 L744.25,219.89 L744.42,224.80 L744.59,230.32 L744.76,236.51 L744.93,243.45 L745.09,251.24 L745.26,260.03 L745.43,269.99 L745.60,281.40 L745.77,272.88 L745.94,265.16 L746.11,258.11 L746.28,251.65 L746.45,245.70 L746.62,240.20 L746.79,235.12 L746.96,230.40 L747.13,226.02 L747.30,221.96 L747.47,218.19 L747.64,214.70 L747.81,211.47 L747.98,208.48 L748.15,205.73 L748.32,203.20 L748.49,200.88 L748.66,198.77 L748.83,196.86 L749.00,195.14 L749.17,193.60 L749.34,192.25 L749.51,191.07 L749.68,190.07 L749.85,189.23 L750.02,188.55 L750.19,188.04 L750.36,187.68 L750.53,187.47 L750.70,187.40 L750.87,187.51 L751.04,187.85 L751.20,188.42 L751.37,189.25 L751.54,190.34 L751.71,191.69 L751.88,193.32 L752.05,195.23 L752.21,197.43 L752.38,199.94 L752.55,202.78 L752.72,205.95 L752.89,209.47 L753.05,213.38 L753.22,217.68 L753.39,222.43 L753.56,227.64 L753.73,233.38 L753.90,239.70 L754.06,246.67 L754.23,254.39 L754.40,263.00 L754.57,255.20 L754.74,248.33 L754.91,242.28 L755.09,236.97 L755.26,232.33 L755.43,228.29 L755.60,224.84 L755.77,221.91 L755.94,219.50 L756.11,217.57 L756.29,216.11 L756.46,215.08 L756.63,214.49 L756.80,214.30 L756.97,214.63 L757.14,215.68 L757.31,217.48 L757.49,220.09 L757.66,223.56 L757.83,227.93 L758.00,233.28 L758.17,239.70 L758.34,247.31 L758.51,256.28 L758.69,266.84 L758.86,279.32 L759.03,294.27 L759.20,312.60 L759.37,303.32 L759.54,295.08 L759.71,287.73 L759.87,281.14 L760.04,275.23 L760.21,269.93 L760.38,265.18 L760.55,260.93 L760.72,257.17 L760.88,253.84 L761.05,250.93 L761.22,248.42 L761.39,246.29 L761.56,244.53 L761.73,243.11 L761.89,242.03 L762.06,241.28 L762.23,240.84 L762.40,240.70 L762.57,240.91 L762.74,241.59 L762.91,242.76 L763.09,244.46 L763.26,246.69 L763.43,249.50 L763.60,252.90 L763.77,256.92 L763.94,261.62 L764.11,267.02 L764.29,273.19 L764.46,280.19 L764.63,288.13 L764.80,297.10 L764.97,307.29 L765.14,318.90 L765.31,332.29 L765.49,347.95 L765.66,366.78 L765.83,390.48 L766.00,423.00 L766.17,394.98 L766.33,373.91 L766.50,357.22 L766.67,343.68 L766.83,332.61 L767.00,323.58 L767.17,316.33 L767.33,310.65 L767.50,306.41 L767.67,303.50 L767.83,301.83 L768.00,301.30 L768.18,301.49 L768.36,302.07 L768.53,303.07 L768.71,304.52 L768.89,306.41 L769.07,308.78 L769.24,311.65 L769.42,315.04 L769.60,319.00 L769.77,309.75 L769.94,301.46 L770.11,293.95 L770.28,287.12 L770.45,280.89 L770.62,275.18 L770.78,269.94 L770.95,265.13 L771.12,260.71 L771.29,256.66 L771.46,252.94 L771.63,249.55 L771.80,246.46 L771.97,243.65 L772.14,241.11 L772.31,238.84 L772.48,236.82 L772.65,235.04 L772.82,233.50 L772.98,232.18 L773.15,231.09 L773.32,230.21 L773.49,229.53 L773.66,229.06 L773.83,228.79 L774.00,228.70 L774.17,228.77 L774.34,228.97 L774.51,229.33 L774.67,229.84 L774.84,230.51 L775.01,231.35 L775.18,232.35 L775.35,233.52 L775.52,234.87 L775.69,236.39 L775.85,238.11 L776.02,240.01 L776.19,242.11 L776.36,244.41 L776.53,246.92 L776.70,249.66 L776.87,252.62 L777.03,255.81 L777.20,259.26 L777.37,262.97 L777.54,266.96 L777.71,271.25 L777.88,275.86 L778.05,280.81 L778.21,286.13 L778.38,291.86 L778.55,298.05 L778.72,304.74 L778.89,312.01 L779.06,319.95 L779.23,328.68 L779.39,338.35 L779.56,349.21 L779.73,361.58 L779.90,376.00 L780.07,353.55 L780.23,335.77 L780.40,321.15 L780.57,308.87 L780.73,298.44 L780.90,289.55 L781.07,281.99 L781.23,275.60 L781.40,270.28 L781.57,265.92 L781.73,262.47 L781.90,259.87 L782.07,258.07 L782.23,257.03 L782.40,256.70 L782.57,256.87 L782.75,257.40 L782.92,258.31 L783.09,259.62 L783.27,261.33 L783.44,263.48 L783.61,266.07 L783.79,269.13 L783.96,272.69 L784.13,276.79 L784.31,281.45 L784.48,286.73 L784.65,292.69 L784.83,299.41 L785.00,307.00 L785.17,295.88 L785.33,286.17 L785.50,277.62 L785.67,270.05 L785.83,263.33 L786.00,257.36 L786.17,252.06 L786.33,247.38 L786.50,243.27 L786.67,239.70 L786.83,236.62 L787.00,234.01 L787.17,231.85 L787.33,230.13 L787.50,228.82 L787.67,227.90 L787.83,227.37 L788.00,227.20 L788.17,227.29 L788.33,227.58 L788.50,228.08 L788.67,228.79 L788.83,229.73 L789.00,230.89 L789.17,232.28 L789.33,233.91 L789.50,235.80 L789.67,237.94 L789.83,240.35 L790.00,243.04 L790.17,246.03 L790.33,249.32 L790.50,252.94 L790.67,256.91 L790.83,261.25 L791.00,265.99 L791.17,271.16 L791.33,276.82 L791.50,283.02 L791.67,289.81 L791.83,297.30 L792.00,305.60 L792.17,300.95 L792.34,296.67 L792.51,292.72 L792.69,289.07 L792.86,285.72 L793.03,282.63 L793.20,279.81 L793.37,277.23 L793.54,274.88 L793.71,272.76 L793.89,270.86 L794.06,269.16 L794.23,267.66 L794.40,266.36 L794.57,265.25 L794.74,264.32 L794.91,263.58 L795.09,263.01 L795.26,262.61 L795.43,262.37 L795.60,262.30 L795.78,262.86 L795.96,264.47 L796.14,266.98 L796.32,270.14 L796.50,273.65 L796.68,277.16 L796.86,280.32 L797.04,282.83 L797.22,284.44 L797.40,285.00" class="d"/>
<path d="M797.40,285.00 L797.50,289.72 L797.64,296.11 L797.81,303.75 L797.99,312.22 L798.16,321.11 L798.30,330.00 L798.42,339.11 L798.53,348.81 L798.62,358.94 L798.72,369.30 L798.81,379.71 L798.90,390.00 L798.99,401.65 L799.07,415.11 L799.16,428.62 L799.24,440.44 L799.32,448.82 L799.40,452.00 L799.48,448.65 L799.56,439.89 L799.64,427.69 L799.72,414.00 L799.81,400.78 L799.90,390.00 L800.00,381.24 L800.11,372.85 L800.22,364.94 L800.34,357.59 L800.46,350.91 L800.60,345.00 L800.75,339.74 L800.91,335.04 L801.08,331.00 L801.26,327.74 L801.43,325.37 L801.60,324.00 L801.77,323.88 L801.93,324.96 L802.10,326.94 L802.27,329.48 L802.43,332.28 L802.60,335.00 L802.77,338.33 L802.94,342.67 L803.11,347.25 L803.28,351.33 L803.44,354.17 L803.60,355.00 L803.74,353.50 L803.88,350.19 L804.01,345.62 L804.14,340.37 L804.27,334.98 L804.40,330.00 L804.53,325.23 L804.67,320.19 L804.80,315.00 L804.93,309.81 L805.07,304.77 L805.20,300.00 L805.33,295.47 L805.46,291.07 L805.59,286.81 L805.72,282.70 L805.86,278.76 L806.00,275.00 L806.15,271.30 L806.31,267.63 L806.48,264.12 L806.64,260.93 L806.82,258.17 L807.00,256.00 L807.19,254.55 L807.38,253.74 L807.57,253.38 L807.78,253.26 L807.99,253.20 L808.20,253.00 L808.42,252.78 L808.66,252.70 L808.90,252.69 L809.14,252.63 L809.38,252.43 L809.60,252.00 L809.80,251.31 L809.99,250.42 L810.18,249.40 L810.36,248.29 L810.57,247.14 L810.80,246.00 L811.07,244.68 L811.36,243.09 L811.67,241.46 L811.99,240.02 L812.30,238.99 L812.60,238.60 L812.88,238.78 L813.16,239.36 L813.43,240.34 L813.69,241.76 L813.95,243.63 L814.20,246.00 L814.44,249.06 L814.68,252.83 L814.91,257.06 L815.14,261.50 L815.37,265.90 L815.60,270.00 L815.84,274.29 L816.07,279.06 L816.31,283.79 L816.55,287.94 L816.78,290.99 L817.00,292.40 L817.20,291.81 L817.39,289.57 L817.57,286.22 L817.76,282.32 L817.97,278.40 L818.20,275.00 L818.47,271.97 L818.77,268.82 L819.08,265.66 L819.40,262.58 L819.71,259.66 L820.00,257.00 L820.27,254.57 L820.52,252.30 L820.77,250.19 L821.01,248.26 L821.25,246.53 L821.50,245.00 L821.75,243.63 L822.00,242.41 L822.25,241.38 L822.50,240.59 L822.75,240.12 L823.00,240.00 L823.25,240.18 L823.51,240.59 L823.76,241.31 L824.01,242.41 L824.26,243.95 L824.50,246.00 L824.73,248.57 L824.96,251.59 L825.18,255.06 L825.40,258.96 L825.60,263.28 L825.80,268.00 L825.98,273.03 L826.13,278.37 L826.28,284.12 L826.43,290.41 L826.60,297.33 L826.80,305.00 L827.04,314.65 L827.31,326.44 L827.60,338.88 L827.89,350.44 L828.16,359.65 L828.40,365.00 L828.60,365.64 L828.77,362.59 L828.92,357.19 L829.07,350.74 L829.23,344.57 L829.40,340.00 L829.59,336.52 L829.79,332.96 L830.00,329.69 L830.21,327.04 L830.41,325.36 L830.60,325.00 L830.78,325.90 L830.96,327.78 L831.13,330.62 L831.29,334.44 L831.45,339.24 L831.60,345.00 L831.75,352.18 L831.89,360.85 L832.02,370.50 L832.16,380.59 L832.28,390.60 L832.40,400.00 L832.51,410.04 L832.61,421.41 L832.71,432.69 L832.81,442.48 L832.90,449.39 L833.00,452.00 L833.10,449.56 L833.20,443.04 L833.30,433.62 L833.40,422.52 L833.50,410.91 L833.60,400.00 L833.69,389.24 L833.78,377.56 L833.86,365.38 L833.96,353.11 L834.07,341.18 L834.20,330.00 L834.36,319.45 L834.54,309.19 L834.74,299.25 L834.95,289.70 L835.17,280.60 L835.40,272.00 L835.64,263.91 L835.90,256.30 L836.17,249.12 L836.45,242.37 L836.73,236.00 L837.00,230.00 L837.27,224.30 L837.55,218.92 L837.83,213.92 L838.10,209.39 L838.36,205.39 L838.60,202.00 L838.81,199.35 L839.01,197.41 L839.19,196.01 L839.37,194.96 L839.53,194.08 L839.70,193.20 L839.86,192.36 L840.01,191.71 L840.16,191.24 L840.31,190.93 L840.45,190.75 L840.60,190.70 L840.75,190.74 L840.90,190.89 L841.04,191.18 L841.19,191.64 L841.34,192.30 L841.50,193.20 L841.66,194.33 L841.81,195.66 L841.96,197.19 L842.13,198.93 L842.30,200.87 L842.50,203.00 L842.72,205.43 L842.94,208.17 L843.19,211.11 L843.44,214.14 L843.72,217.14 L844.00,220.00 L844.29,222.79 L844.59,225.63 L844.91,228.44 L845.24,231.15 L845.60,233.69 L846.00,236.00 L846.45,237.99 L846.96,239.70 L847.50,241.25 L848.04,242.74 L848.55,244.29 L849.00,246.00 L849.39,247.65 L849.74,249.11 L850.06,250.62 L850.37,252.44 L850.68,254.82 L851.00,258.00 L851.33,261.91 L851.67,266.33 L852.00,271.31 L852.33,276.89 L852.67,283.10 L853.00,290.00 L853.34,297.86 L853.70,306.70 L854.05,316.19 L854.39,325.96 L854.71,335.68 L855.00,345.00 L855.25,355.12 L855.46,366.56 L855.65,377.94 L855.83,387.89 L856.01,395.03 L856.20,398.00 L856.40,395.87 L856.59,389.56 L856.78,380.44 L856.97,369.89 L857.18,359.28 L857.40,350.00 L857.64,341.57 L857.88,332.81 L858.14,324.00 L858.41,315.41 L858.69,307.31 L859.00,300.00 L859.33,293.37 L859.68,287.19 L860.05,281.50 L860.43,276.37 L860.81,271.85 L861.20,268.00 L861.59,264.83 L861.99,262.30 L862.40,260.38 L862.81,259.04 L863.21,258.25 L863.60,258.00 L863.98,258.25 L864.35,259.04 L864.71,260.38 L865.07,262.30 L865.44,264.83 L865.80,268.00 L866.17,271.62 L866.53,275.63 L866.90,280.25 L867.27,285.70 L867.63,292.21 L868.00,300.00 L868.37,310.74 L868.76,324.59 L869.14,339.50 L869.51,353.41 L869.87,364.26 L870.20,370.00 L870.50,369.70 L870.77,364.81 L871.03,356.88 L871.27,347.41 L871.53,337.94 L871.80,330.00 L872.09,323.09 L872.38,315.89 L872.67,308.69 L872.98,301.78 L873.29,295.45 L873.60,290.00 L873.93,285.44 L874.27,281.53 L874.61,278.20 L874.96,275.39 L875.29,273.01 L875.60,271.00 L875.89,269.44 L876.15,268.41 L876.40,267.83 L876.65,267.59 L876.91,267.61 L877.20,267.80 L877.51,268.20 L877.82,268.88 L878.15,269.83 L878.49,271.01 L878.84,272.41 L879.20,274.00 L879.58,276.23 L879.99,279.20 L880.40,282.39 L880.81,285.27 L881.22,287.31 L881.60,288.00 L881.95,287.09 L882.28,284.96 L882.60,282.00 L882.92,278.59 L883.25,275.13 L883.60,272.00 L883.98,269.07 L884.37,266.00 L884.77,262.88 L885.18,259.78 L885.59,256.79 L886.00,254.00 L886.41,251.33 L886.83,248.70 L887.24,246.19 L887.66,243.85 L888.08,241.77 L888.50,240.00 L888.92,238.53 L889.33,237.30 L889.75,236.31 L890.17,235.59 L890.58,235.15 L891.00,235.00 L891.42,235.13 L891.83,235.52 L892.25,236.19 L892.67,237.15 L893.08,238.41 L893.50,240.00 L893.90,241.89 L894.28,244.07 L894.66,246.56 L895.06,249.37 L895.50,252.51 L896.00,256.00 L896.58,260.02 L897.22,264.59 L897.91,269.50 L898.61,274.52 L899.32,279.43 L900.00,284.00 L900.67,288.22 L901.33,292.26 L902.00,296.19 L902.67,300.07 L903.33,303.99 L904.00,308.00 L904.68,312.18 L905.39,316.48 L906.09,320.81 L906.78,325.07 L907.42,329.17 L908.00,333.00 L908.51,336.48 L908.96,339.67 L909.38,342.69 L909.76,345.67 L910.13,348.73 L910.50,352.00 L910.87,355.52 L911.22,359.19 L911.56,362.94 L911.89,366.70 L912.20,370.41 L912.50,374.00 L912.78,377.91 L913.04,382.30 L913.28,386.62 L913.52,390.37 L913.76,393.00 L914.00,394.00 L914.24,392.97 L914.48,390.26 L914.72,386.44 L914.96,382.07 L915.22,377.74 L915.50,374.00 L915.80,370.75 L916.11,367.52 L916.44,364.31 L916.78,361.15 L917.13,358.04 L917.50,355.00 L917.88,352.18 L918.28,349.59 L918.69,347.06 L919.11,344.41 L919.55,341.45 L920.00,338.00 L920.47,333.92 L920.96,329.33 L921.47,324.44 L921.98,319.44 L922.49,314.56 L923.00,310.00 L923.50,305.67 L924.00,301.39 L924.50,297.22 L925.00,293.22 L925.50,289.46 L926.00,286.00 L926.51,282.83 L927.04,279.89 L927.56,277.19 L928.07,274.72 L928.56,272.49 L929.00,270.50 L929.40,268.80 L929.76,267.41 L930.09,266.25 L930.40,265.26 L930.70,264.37 L931.00,263.50 L931.29,262.69 L931.56,261.99 L931.82,261.39 L932.08,260.87 L932.34,260.42 L932.60,260.00 L932.86,259.63 L933.13,259.33 L933.39,259.08 L933.65,258.90 L933.92,258.77 L934.20,258.70 L934.49,258.69 L934.78,258.75 L935.08,258.86 L935.38,259.03 L935.69,259.24 L936.00,259.50 L936.31,259.77 L936.61,260.06 L936.92,260.39 L937.25,260.81 L937.61,261.33 L938.00,262.00 L938.43,262.79 L938.89,263.67 L939.38,264.66 L939.89,265.78 L940.43,267.05 L941.00,268.50 L941.62,270.24 L942.28,272.28 L942.98,274.47 L943.67,276.67 L944.36,278.73 L945.00,280.50 L945.60,282.10 L946.19,283.67 L946.76,285.10 L947.31,286.27 L947.86,287.08 L948.40,287.40 L948.93,287.18 L949.44,286.50 L949.94,285.44 L950.45,284.11 L950.96,282.60 L951.50,281.00 L952.04,279.30 L952.58,277.41 L953.13,275.35 L953.71,273.10 L954.33,270.65 L955.00,268.00 L955.73,265.03 L956.52,261.70 L957.34,258.19 L958.20,254.63 L959.09,251.18 L960.00,248.00 L960.93,245.09 L961.89,242.33 L962.88,239.69 L963.89,237.11 L964.93,234.56 L966.00,232.00 L967.19,229.27 L968.52,226.37 L969.88,223.50 L971.15,220.85 L972.23,218.62 L973.00,217.00" class="d"/>
</g>
<line x1="78.5" y1="442.5" x2="78.5" y2="447.4" class="t"/>
<line x1="78.5" y1="37.5" x2="73.6" y2="37.5" class="t"/>
<line x1="301.5" y1="442.5" x2="301.5" y2="447.4" class="t"/>
<line x1="78.5" y1="138.5" x2="73.6" y2="138.5" class="t"/>
<line x1="525.5" y1="442.5" x2="525.5" y2="447.4" class="t"/>
<line x1="78.5" y1="240.5" x2="73.6" y2="240.5" class="t"/>
<line x1="748.5" y1="442.5" x2="748.5" y2="447.4" class="t"/>
<line x1="78.5" y1="341.5" x2="73.6" y2="341.5" class="t"/>
<line x1="972.5" y1="442.5" x2="972.5" y2="447.4" class="t"/>
<line x1="78.5" y1="442.5" x2="73.6" y2="442.5" class="t"/>
<line x1="145.5" y1="442.5" x2="145.5" y2="445.4" class="m"/>
<line x1="78.5" y1="411.5" x2="75.6" y2="411.5" class="m"/>
<line x1="185.5" y1="442.5" x2="185.5" y2="445.4" class="m"/>
<line x1="78.5" y1="393.5" x2="75.6" y2="393.5" class="m"/>
<line x1="212.5" y1="442.5" x2="212.5" y2="445.4" class="m"/>
<line x1="78.5" y1="381.5" x2="75.6" y2="381.5" class="m"/>
<line x1="234.5" y1="442.5" x2="234.5" y2="445.4" class="m"/>
<line x1="78.5" y1="371.5" x2="75.6" y2="371.5" class="m"/>
<line x1="252.5" y1="442.5" x2="252.5" y2="445.4" class="m"/>
<line x1="78.5" y1="363.5" x2="75.6" y2="363.5" class="m"/>
<line x1="267.5" y1="442.5" x2="267.5" y2="445.4" class="m"/>
<line x1="78.5" y1="356.5" x2="75.6" y2="356.5" class="m"/>
<line x1="280.5" y1="442.5" x2="280.5" y2="445.4" class="m"/>
<line x1="78.5" y1="350.5" x2="75.6" y2="350.5" class="m"/>
<line x1="291.5" y1="442.5" x2="291.5" y2="445.4" class="m"/>
<line x1="78.5" y1="345.5" x2="75.6" y2="345.5" class="m"/>
<line x1="369.5" y1="442.5" x2="369.5" y2="445.4" class="m"/>
<line x1="78.5" y1="310.5" x2="75.6" y2="310.5" class="m"/>
<line x1="408.5" y1="442.5" x2="408.5" y2="445.4" class="m"/>
<line x1="78.5" y1="292.5" x2="75.6" y2="292.5" class="m"/>
<line x1="436.5" y1="442.5" x2="436.5" y2="445.4" class="m"/>
<line x1="78.5" y1="280.5" x2="75.6" y2="280.5" class="m"/>
<line x1="458.5" y1="442.5" x2="458.5" y2="445.4" class="m"/>
<line x1="78.5" y1="270.5" x2="75.6" y2="270.5" class="m"/>
<line x1="475.5" y1="442.5" x2="475.5" y2="445.4" class="m"/>
<line x1="78.5" y1="262.5" x2="75.6" y2="262.5" class="m"/>
<line x1="490.5" y1="442.5" x2="490.5" y2="445.4" class="m"/>
<line x1="78.5" y1="255.5" x2="75.6" y2="255.5" class="m"/>
<line x1="503.5" y1="442.5" x2="503.5" y2="445.4" class="m"/>
<line x1="78.5" y1="249.5" x2="75.6" y2="249.5" class="m"/>
<line x1="515.5" y1="442.5" x2="515.5" y2="445.4" class="m"/>
<line x1="78.5" y1="244.5" x2="75.6" y2="244.5" class="m"/>
<line x1="592.5" y1="442.5" x2="592.5" y2="445.4" class="m"/>
<line x1="78.5" y1="209.5" x2="75.6" y2="209.5" class="m"/>
<line x1="632.5" y1="442.5" x2="632.5" y2="445.4" class="m"/>
<line x1="78.5" y1="191.5" x2="75.6" y2="191.5" class="m"/>
<line x1="659.5" y1="442.5" x2="659.5" y2="445.4" class="m"/>
<line x1="78.5" y1="179.5" x2="75.6" y2="179.5" class="m"/>
<line x1="681.5" y1="442.5" x2="681.5" y2="445.4" class="m"/>
<line x1="78.5" y1="169.5" x2="75.6" y2="169.5" class="m"/>
<line x1="699.5" y1="442.5" x2="699.5" y2="445.4" class="m"/>
<line x1="78.5" y1="161.5" x2="75.6" y2="161.5" class="m"/>
<line x1="714.5" y1="442.5" x2="714.5" y2="445.4" class="m"/>
<line x1="78.5" y1="154.5" x2="75.6" y2="154.5" class="m"/>
<line x1="727.5" y1="442.5" x2="727.5" y2="445.4" class="m"/>
<line x1="78.5" y1="148.5" x2="75.6" y2="148.5" class="m"/>
<line x1="738.5" y1="442.5" x2="738.5" y2="445.4" class="m"/>
<line x1="78.5" y1="143.5" x2="75.6" y2="143.5" class="m"/>
<line x1="816.5" y1="442.5" x2="816.5" y2="445.4" class="m"/>
<line x1="78.5" y1="108.5" x2="75.6" y2="108.5" class="m"/>
<line x1="855.5" y1="442.5" x2="855.5" y2="445.4" class="m"/>
<line x1="78.5" y1="90.5" x2="75.6" y2="90.5" class="m"/>
<line x1="883.5" y1="442.5" x2="883.5" y2="445.4" class="m"/>
<line x1="78.5" y1="78.5" x2="75.6" y2="78.5" class="m"/>
<line x1="905.5" y1="442.5" x2="905.5" y2="445.4" class="m"/>
<line x1="78.5" y1="68.5" x2="75.6" y2="68.5" class="m"/>
<line x1="922.5" y1="442.5" x2="922.5" y2="445.4" class="m"/>
<line x1="78.5" y1="60.5" x2="75.6" y2="60.5" class="m"/>
<line x1="937.5" y1="442.5" x2="937.5" y2="445.4" class="m"/>
<line x1="78.5" y1="53.5" x2="75.6" y2="53.5" class="m"/>
<line x1="950.5" y1="442.5" x2="950.5" y2="445.4" class="m"/>
<line x1="78.5" y1="47.5" x2="75.6" y2="47.5" class="m"/>
<line x1="962.5" y1="442.5" x2="962.5" y2="445.4" class="m"/>
<line x1="78.5" y1="42.5" x2="75.6" y2="42.5" class="m"/>
<rect x="78.5" y="37.5" width="894.0" height="405.0" class="f"/>
<text transform="translate(295.60,28.70) scale(1.0406,1)" font-size="17.6">Generalised</text>
<text transform="translate(399.96,28.70) scale(1.0405,1)" font-size="17.6">Lomb-Scargle</text>
<text transform="translate(519.22,28.70) scale(1.0760,1)" font-size="17.6">periodogram</text>
<text transform="translate(632.00,28.70) scale(1.0146,1)" font-size="17.6">of</text>
<text transform="translate(652.70,28.70) scale(0.8866,1)" font-size="17.6">ASCC</text>
<text transform="translate(703.58,28.70) scale(1.0241,1)" font-size="17.6">15646</text>
<text transform="translate(63.70,461.90) scale(0.9980,1)" font-size="14.5">0.01</text>
<text transform="translate(291.50,461.90) scale(0.9705,1)" font-size="14.5">0.1</text>
<text transform="translate(521.46,461.90) scale(0.9429,1)" font-size="14.5">1</text>
<text transform="translate(740.56,461.90) scale(0.9360,1)" font-size="14.5">10</text>
<text transform="translate(958.98,461.90) scale(1.0161,1)" font-size="14.5">100</text>
<text transform="translate(478.56,481.40) scale(1.0428,1)" font-size="14.5">Period</text>
<text transform="translate(527.80,481.40) scale(1.0771,1)" font-size="14.5">(days)</text>
<text transform="translate(44.60,44.00) scale(0.8962,1)" font-size="14.5">10</text>
<text transform="translate(61.60,38.90) scale(0.8167,1)" font-size="10.6">0</text>
<text transform="translate(36.55,145.00) scale(0.9493,1)" font-size="14.5">10</text>
<text transform="translate(54.00,139.90) scale(1.0000,1)" font-size="10.6">−</text>
<text transform="translate(62.20,139.90) scale(0.6833,1)" font-size="10.6">1</text>
<text transform="translate(36.55,246.50) scale(0.9493,1)" font-size="14.5">10</text>
<text transform="translate(54.00,241.40) scale(1.0000,1)" font-size="10.6">−</text>
<text transform="translate(61.70,241.40) scale(0.8000,1)" font-size="10.6">2</text>
<text transform="translate(36.55,348.00) scale(0.9493,1)" font-size="14.5">10</text>
<text transform="translate(54.00,342.90) scale(1.0000,1)" font-size="10.6">−</text>
<text transform="translate(61.70,342.90) scale(0.8000,1)" font-size="10.6">3</text>
<text transform="translate(36.55,449.00) scale(0.9493,1)" font-size="14.5">10</text>
<text transform="translate(54.00,443.90) scale(1.0000,1)" font-size="10.6">−</text>
<text transform="translate(61.70,443.90) scale(0.8000,1)" font-size="10.6">4</text>
<text transform="translate(26.20,262.60) rotate(-90) scale(0.9982,1)" font-size="14.5">Power</text>
</svg>
</body></html>
